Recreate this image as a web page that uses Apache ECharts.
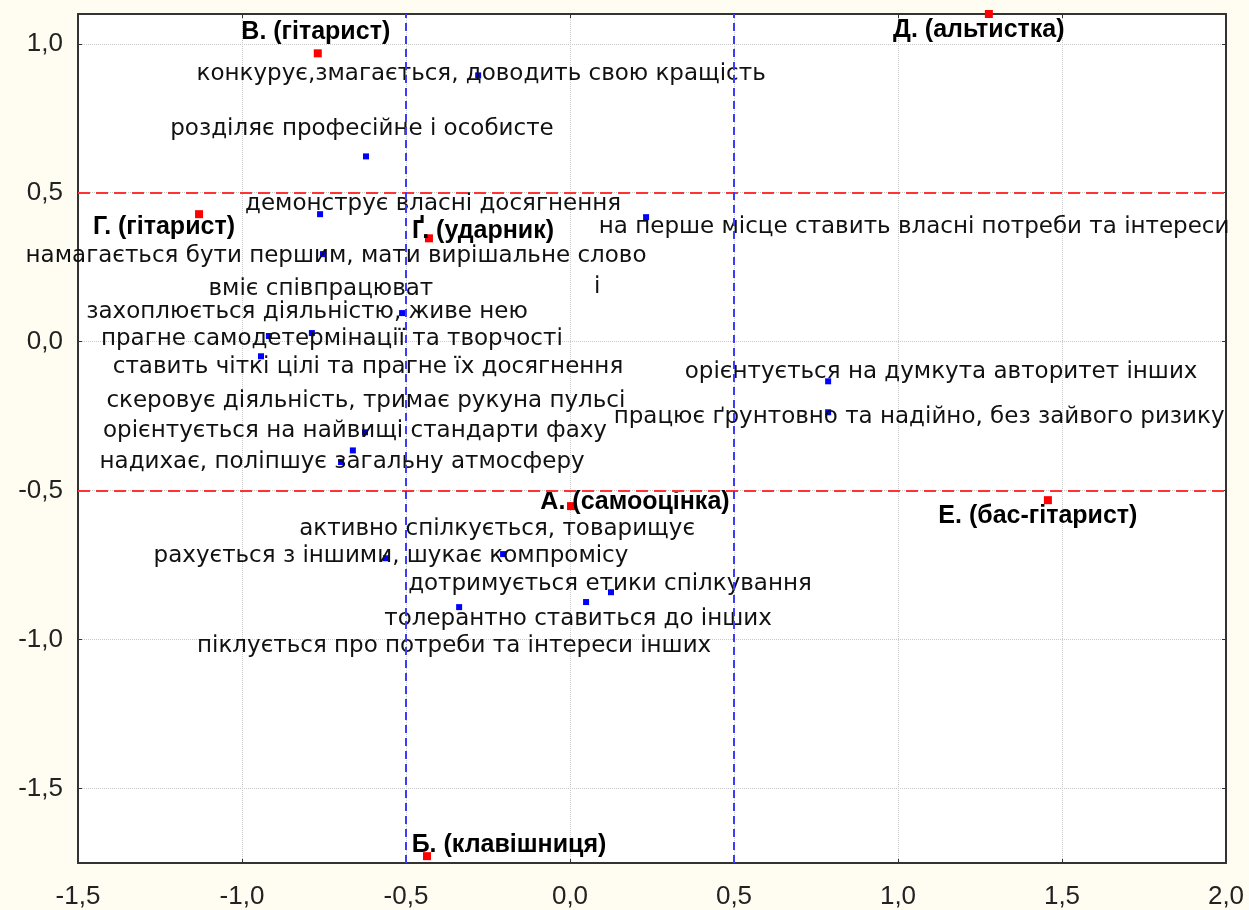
<!DOCTYPE html>
<html><head><meta charset="utf-8">
<script src="https://cdn.jsdelivr.net/npm/echarts@6/dist/echarts.min.js"></script>
<style>html,body{margin:0;padding:0;background:#fffdf2}#c{width:1249px;height:910px}</style>
</head><body><div id="c"></div>
<script>
// ---- data ----
const groupNames = ['В. (гітарист)', 'Д. (альтистка)', 'Г. (гітарист)', 'Ґ. (ударник)', 'А. (самооцінка)', 'Е. (бас-гітарист)', 'Б. (клавішниця)'];
const groupX = [-0.769, 1.277, -1.131, -0.430, 0.003, 1.457, -0.436];
const groupY = [0.968, 1.100, 0.428, 0.347, -0.552, -0.532, -1.727];

const traitNames = [
  'конкурує,змагається, доводить свою кращість',
  'розділяє професійне і особисте',
  'демонструє власні досягнення',
  'на перше місце ставить власні потреби та інтереси',
  'намагається бути першим, мати вирішальне слово',
  'вміє співпрацюват',
  'захоплюється діяльністю, живе нею',
  'прагне самодетермінації та творчості',
  'ставить чіткі цілі та прагне їх досягнення',
  'скеровує діяльність, тримає рукуна пульсі',
  'орієнтується на найвищі стандарти фаху',
  'надихає, поліпшує загальну атмосферу',
  'орієнтується на думкута авторитет інших',
  'працює ґрунтовно та надійно, без зайвого ризику',
  'активно спілкується, товарищує',
  'рахується з іншими, шукає компромісу',
  'дотримується етики спілкування',
  'толерантно ставиться до інших',
  'піклується про потреби та інтереси інших'
];
const traitX = [-0.280, -0.622, -0.762, 0.232, -0.753, -0.787, -0.512, -0.918, -0.942, -0.662, -0.625, -0.698, 0.787, 0.787, -0.204, -0.561, 0.125, 0.049, -0.338];
const traitY = [0.894, 0.622, 0.428, 0.418, 0.294, 0.029, 0.096, 0.019, -0.049, -0.365, -0.304, -0.404, -0.133, -0.237, -0.713, -0.727, -0.841, -0.874, -0.891];

const xTicks = [-1.5, -1.0, -0.5, 0, 0.5, 1.0, 1.5, 2.0];
const yTicks = [-1.5, -1.0, -0.5, 0, 0.5, 1.0];
const hRefLines = [0.5, -0.5];
const vRefLines = [-0.5, 0.5];

// ---- layout (label placement, pixels) ----
const groupLabelOffsets = [[-2,-21],[-10,16],[-35,13],[54,-7],[64,-4],[-10,16],[82,-11]];
const traitLabelOffsets = [[3,-1],[-4,-27],[113,-10],[268,10],[13,2],[9,-44],[-95,-1],[63,3],[107,11],[13,-49],[-10,-1],[1,0],[113,-9],[91,5],[-6,-25],[5,-2],[-1,-8],[-8,17],[-5,39]];

const fmt = v => Number(v).toFixed(1).replace('.', ',');
const LABEL_FONT = 'DejaVu Sans';

const chart = echarts.init(document.getElementById('c'), null, {renderer: 'canvas'});
const axisLineStyle = {color: '#333', width: 2};
chart.setOption({
  backgroundColor: '#fffdf2',
  animation: false,
  grid: {left: 78, right: 23, top: 14, bottom: 46, show: true, backgroundColor: '#ffffff', borderWidth: 0},
  xAxis: [{
    type: 'value', min: -1.5, max: 2.0, interval: 0.5,
    axisLine: {show: true, onZero: false, lineStyle: axisLineStyle},
    axisTick: {show: true, inside: true, length: 4, lineStyle: {color: '#333'}},
    axisLabel: {formatter: fmt, fontFamily: 'Liberation Sans', fontSize: 26, color: '#222', margin: 21},
    splitLine: {show: true, lineStyle: {color: '#c8c8c8', type: 'dotted', width: 1}}
  }, {
    type: 'value', position: 'top', min: -1.5, max: 2.0, interval: 0.5,
    axisLine: {show: true, onZero: false, lineStyle: axisLineStyle},
    axisTick: {show: true, inside: true, length: 4, lineStyle: {color: '#333'}},
    axisLabel: {show: false}, splitLine: {show: false}
  }],
  yAxis: [{
    type: 'value', min: -1.75, max: 1.1,
    axisLine: {show: true, onZero: false, lineStyle: axisLineStyle},
    axisTick: {show: true, inside: true, length: 4, customValues: yTicks, lineStyle: {color: '#333'}},
    axisLabel: {customValues: yTicks, formatter: fmt, fontFamily: 'Liberation Sans', fontSize: 26, color: '#222', margin: 15},
    splitLine: {show: true, lineStyle: {color: '#c8c8c8', type: 'dotted', width: 1}}
  }, {
    type: 'value', position: 'right', min: -1.75, max: 1.1,
    axisLine: {show: true, onZero: false, lineStyle: axisLineStyle},
    axisTick: {show: true, inside: true, length: 4, customValues: yTicks, lineStyle: {color: '#333'}},
    axisLabel: {show: false}, splitLine: {show: false}
  }],
  series: [{
    type: 'scatter', name: 'traits', z: 3,
    symbol: 'rect', symbolSize: 6,
    itemStyle: {color: '#0000ff', opacity: 1},
    data: traitNames.map((n, i) => ({name: n, value: [traitX[i], traitY[i]], label: {offset: traitLabelOffsets[i]}})),
    label: {show: true, position: 'inside', formatter: p => p.name, fontFamily: LABEL_FONT, fontSize: 23, color: '#111', align: 'center', verticalAlign: 'middle'},
    markLine: {
      silent: true, symbol: 'none', label: {show: false},
      data: [
        ...hRefLines.map(v => ({yAxis: v, lineStyle: {color: '#ff3333', type: [12, 6], width: 2}})),
        ...vRefLines.map(v => ({xAxis: v, lineStyle: {color: '#3c3cff', type: [8, 5], width: 2}}))
      ]
    }
  }, {
    type: 'scatter', name: 'groups', z: 4,
    symbol: 'rect', symbolSize: 8,
    itemStyle: {color: '#ff0000', opacity: 1},
    data: groupNames.map((n, i) => ({name: n, value: [groupX[i], groupY[i]], label: {offset: groupLabelOffsets[i]}})),
    label: {show: true, position: 'inside', formatter: p => p.name, fontFamily: 'Liberation Sans', fontWeight: 'bold', fontSize: 25, color: '#000', align: 'center', verticalAlign: 'middle'}
  }],
  graphic: [{type: 'text', left: 594, top: 276, style: {text: 'і', fontFamily: LABEL_FONT, fontSize: 23, fill: '#111'}}]
});
</script></body></html>
